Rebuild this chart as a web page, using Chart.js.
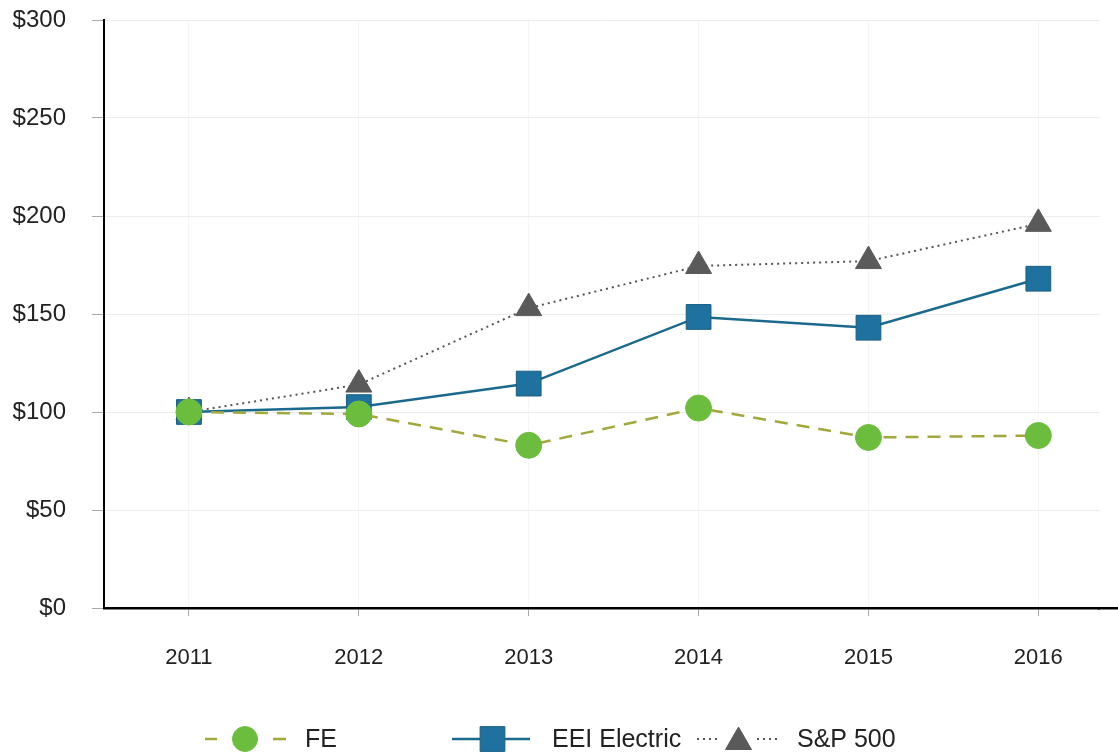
<!DOCTYPE html>
<html>
<head>
<meta charset="utf-8">
<script src="https://cdn.jsdelivr.net/npm/chart.js@4"></script>
<style>
  html, body { margin: 0; padding: 0; background: #fff; overflow: hidden; }
  #wrap { width: 1118px; height: 754px; }
  canvas { display: block; }
</style>
</head>
<body>
<div id="wrap"><canvas id="lineChart" width="1118" height="754"></canvas></div>
<script>
const years = [2011, 2012, 2013, 2014, 2015, 2016];
const fe = [100, 99, 83, 102, 87, 88];
const eei = [100, 102.5, 114.5, 148.5, 143, 168];
const sp500 = [100, 114, 153, 174.5, 177, 196];
const yTicks = [0, 50, 100, 150, 200, 250, 300];

const FONT = "'Liberation Sans', Arial, sans-serif";

const pts = arr => arr.map((v, i) => ({ x: years[i], y: v }));

function drawMarker(ctx, style, x, y, r) {
  if (style === 'circle') {
    ctx.arc(x, y, r, 0, Math.PI * 2);
  } else if (style === 'rect') {
    const s = Math.SQRT1_2 * r;
    ctx.rect(x - s, y - s, 2 * s, 2 * s);
  } else {
    ctx.moveTo(x, y - r);
    ctx.lineTo(x + r * Math.sin(Math.PI * 2 / 3), y + r / 2);
    ctx.lineTo(x - r * Math.sin(Math.PI * 2 / 3), y + r / 2);
    ctx.closePath();
  }
}

// x axis line runs on to the right edge of the picture
const axisExtend = {
  id: 'axisExtend',
  beforeDatasetsDraw(chart) {
    const { ctx, chartArea } = chart;
    const lw = 2.5;
    const y = Math.round(chartArea.bottom - lw / 2) + lw / 2;
    ctx.save();
    ctx.strokeStyle = '#000';
    ctx.lineWidth = lw;
    ctx.beginPath();
    ctx.moveTo(chartArea.right - 2, y);
    ctx.lineTo(chart.width, y);
    ctx.stroke();
    ctx.restore();
  }
};

// legend with line - marker - line, like the original
const legendPlugin = {
  id: 'lineLegend',
  afterDraw(chart) {
    const ctx = chart.ctx;
    const y = 739;
    const items = [
      { ds: 0, x: 205, l1: 12, gap1: 56, l2: 15, gapText: 17, r: 12.5 },
      { ds: 1, x: 452, l1: 28, gap1: 25, l2: 25, gapText: 22, r: 17.5 },
      { ds: 2, x: 697, l1: 23, gap1: 37, l2: 21, gapText: 19, r: 15 }
    ];
    ctx.save();
    items.forEach(it => {
      const d = chart.data.datasets[it.ds];
      const x2 = it.x + it.l1 + it.gap1;
      ctx.strokeStyle = d.borderColor;
      ctx.lineWidth = d.borderWidth;
      ctx.setLineDash(d.borderDash || []);
      ctx.beginPath();
      ctx.moveTo(it.x, y);
      ctx.lineTo(it.x + it.l1, y);
      ctx.moveTo(x2, y);
      ctx.lineTo(x2 + it.l2, y);
      ctx.stroke();
      ctx.setLineDash([]);
      const cx = it.x + it.l1 + it.gap1 / 2;
      ctx.fillStyle = d.pointBackgroundColor;
      ctx.strokeStyle = d.pointBorderColor;
      ctx.lineWidth = 1;
      ctx.beginPath();
      drawMarker(ctx, d.pointStyle, cx, it.ds === 2 ? y + 3 : y, it.r);
      ctx.fill();
      ctx.stroke();
      ctx.fillStyle = '#222';
      ctx.font = '25px ' + FONT;
      ctx.textBaseline = 'middle';
      ctx.textAlign = 'left';
      ctx.fillText(d.label, x2 + it.l2 + it.gapText, y + 1);
    });
    ctx.restore();
  }
};

new Chart(document.getElementById('lineChart').getContext('2d'), {
  type: 'line',
  data: {
    datasets: [
      {
        label: 'FE',
        data: pts(fe),
        borderColor: '#a2a83c',
        borderWidth: 2.5,
        borderDash: [13, 9],
        pointStyle: 'circle',
        pointRadius: 13,
        pointBackgroundColor: '#6cbd3e',
        pointBorderColor: '#6cbd3e',
        pointBorderWidth: 1,
        tension: 0
      },
      {
        label: 'EEI Electric',
        data: pts(eei),
        borderColor: '#1b6a8e',
        borderWidth: 2.5,
        pointStyle: 'rect',
        pointRadius: 17.5,
        pointBackgroundColor: '#1f72a0',
        pointBorderColor: '#185d83',
        pointBorderWidth: 1,
        tension: 0
      },
      {
        label: 'S&P 500',
        data: pts(sp500),
        borderColor: '#555555',
        borderWidth: 2,
        borderDash: [2, 4],
        pointStyle: 'triangle',
        pointRadius: 15,
        pointBackgroundColor: '#5a5a5a',
        pointBorderColor: '#5a5a5a',
        pointBorderWidth: 1,
        tension: 0
      }
    ]
  },
  options: {
    responsive: false,
    animation: false,
    layout: { padding: { top: 20, right: 0, left: 0, bottom: 0 } },
    plugins: {
      legend: { display: false },
      tooltip: { enabled: false }
    },
    scales: {
      x: {
        type: 'linear',
        min: 2010.5,
        max: 2016.36,
        afterBuildTicks: s => { s.ticks = years.map(v => ({ value: v })); },
        afterFit: s => { s.height = 146; s.paddingLeft = 0; s.paddingRight = 0; },
        grid: { color: 'rgba(0,0,0,0.04)', tickColor: '#aaaaaa', tickLength: 8 },
        border: { color: '#000', width: 2.5 },
        ticks: {
          color: '#222',
          font: { size: 22, family: FONT },
          padding: 29,
          maxRotation: 0,
          callback: v => String(v)
        }
      },
      y: {
        min: 0,
        max: 300,
        afterBuildTicks: s => { s.ticks = yTicks.map(v => ({ value: v })); },
        afterFit: s => { s.width = 104; s.paddingTop = 0; s.paddingBottom = 0; },
        grid: { color: '#ececec', tickColor: '#aaaaaa', tickLength: 12 },
        border: { color: '#000', width: 2 },
        ticks: {
          color: '#222',
          font: { size: 24, family: FONT },
          padding: 26,
          callback: v => '$' + v
        }
      }
    }
  },
  plugins: [axisExtend, legendPlugin]
});
</script>
</body>
</html>
